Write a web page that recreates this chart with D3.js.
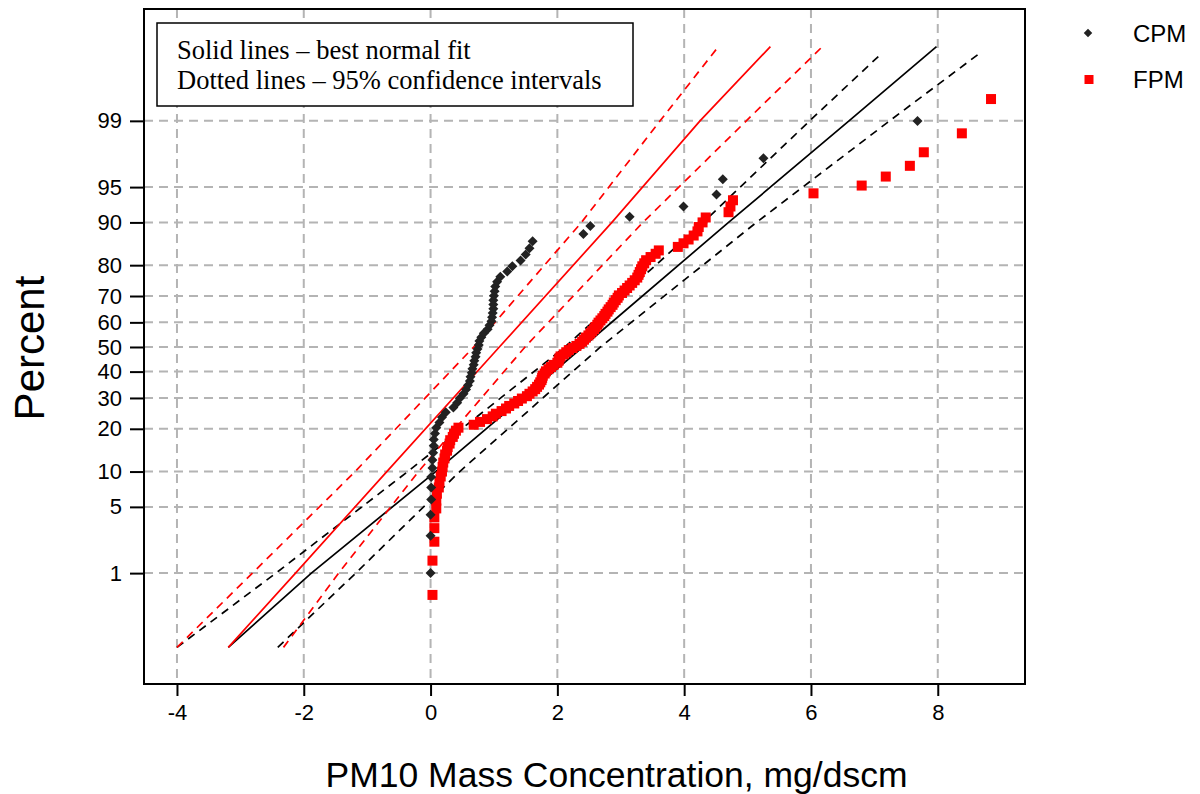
<!DOCTYPE html>
<html>
<head>
<meta charset="utf-8">
<script src="https://cdn.jsdelivr.net/npm/d3@7"></script>
<style>
  body { margin: 0; background: #fff; }
  text { font-family: "Liberation Sans", Arial, sans-serif; }
</style>
</head>
<body>
<svg id="chart" width="1200" height="794"></svg>
<script>
// Sorted sample values, mg/dscm
var cpmValues = [0.00, 0.00, 0.00, 0.01, 0.01, 0.01, 0.03, 0.03, 0.04, 0.05,
    0.05, 0.07, 0.09, 0.14, 0.18, 0.24, 0.36, 0.42, 0.46, 0.52,
    0.56, 0.59, 0.62, 0.63, 0.65, 0.66, 0.68, 0.69, 0.71, 0.72,
    0.74, 0.76, 0.77, 0.80, 0.84, 0.90, 0.93, 0.96, 0.97, 0.98,
    0.99, 0.99, 0.99, 1.00, 1.01, 1.02, 1.05, 1.10, 1.21, 1.29,
    1.42, 1.50, 1.56, 1.61, 2.41, 2.52, 3.14, 3.99, 4.51, 4.61,
    5.25, 7.68]

var fpmValues = [0.03, 0.03, 0.06, 0.06, 0.06, 0.09, 0.09, 0.10, 0.13, 0.14,
    0.16, 0.18, 0.19, 0.20, 0.22, 0.23, 0.26, 0.27, 0.30, 0.31,
    0.35, 0.37, 0.40, 0.44,
    0.68, 0.78, 0.89, 0.98, 1.03, 1.12, 1.19, 1.24, 1.32, 1.38,
    1.44, 1.52, 1.56, 1.61, 1.65, 1.68, 1.71, 1.73, 1.75, 1.76,
    1.77, 1.80, 1.82, 1.86, 1.90, 1.94, 2.00, 2.02, 2.03, 2.05,
    2.10, 2.14, 2.18, 2.24, 2.30, 2.35, 2.39, 2.42, 2.45, 2.49,
    2.52, 2.55, 2.58, 2.60, 2.63, 2.65, 2.68, 2.71, 2.74, 2.76,
    2.79, 2.81, 2.84, 2.87, 2.89, 2.92, 2.95, 2.97, 3.02, 3.06,
    3.10, 3.14, 3.18, 3.22, 3.26, 3.28, 3.30, 3.32, 3.34, 3.37,
    3.40, 3.47, 3.55, 3.60, 3.90, 3.99, 4.07, 4.15, 4.21, 4.23,
    4.29, 4.34, 4.70, 4.73, 4.77, 6.04, 6.80, 7.18, 7.56, 7.78,
    8.38, 8.84]

// Fit and confidence lines, values read at these percents
var linePercents = [0.1, 1, 10, 50, 90, 99, 99.9]
var cpmCiPercents = [0.1, 1, 10, 50, 90, 99, 99.87]
var cpmFit = [-3.19, -1.88, 0.08, 2.40, 4.70, 6.60, 7.98]
var cpmLower = [-4.00, -2.44, -0.36, 2.12, 4.30, 5.98, 7.10]
var cpmUpper = [-2.41, -1.18, 0.46, 2.68, 5.14, 7.24, 8.64]
var fpmFit = [-3.19, -2.13, -0.69, 1.085, 2.86, 4.25, 5.36]
var fpmLower = [-4.00, -2.81, -1.19, 0.68, 2.38, 3.62, 4.54]
var fpmUpper = [-2.32, -1.45, -0.19, 1.49, 3.35, 4.98, 6.18]

var xTicks = [-4, -2, 0, 2, 4, 6, 8]
var yTicks = [1, 5, 10, 20, 30, 40, 50, 60, 70, 80, 90, 95, 99]

var plotLeft = 144, plotRight = 1025, plotTop = 9, plotBottom = 684

// inverse of the standard normal CDF (Acklam)
function probit(p) {
    var a = [-39.6968302866538, 220.946098424521, -275.928510446969, 138.357751867269, -30.6647980661472, 2.50662827745924]
    var b = [-54.4760987982241, 161.585836858041, -155.698979859887, 66.8013118877197, -13.2806815528857]
    var c = [-0.00778489400243029, -0.322396458041136, -2.40075827716184, -2.54973253934373, 4.37466414146497, 2.93816398269878]
    var d = [0.00778469570904146, 0.32246712907004, 2.445134137143, 3.75440866190742]
    var q, r
    if (p < 0.02425) {
        q = Math.sqrt(-2 * Math.log(p))
        return (((((c[0] * q + c[1]) * q + c[2]) * q + c[3]) * q + c[4]) * q + c[5]) / ((((d[0] * q + d[1]) * q + d[2]) * q + d[3]) * q + 1)
    }
    if (p > 1 - 0.02425) {
        q = Math.sqrt(-2 * Math.log(1 - p))
        return -(((((c[0] * q + c[1]) * q + c[2]) * q + c[3]) * q + c[4]) * q + c[5]) / ((((d[0] * q + d[1]) * q + d[2]) * q + d[3]) * q + 1)
    }
    q = p - 0.5
    r = q * q
    return (((((a[0] * r + a[1]) * r + a[2]) * r + a[3]) * r + a[4]) * r + a[5]) * q / (((((b[0] * r + b[1]) * r + b[2]) * r + b[3]) * r + b[4]) * r + 1)
}

var x = d3.scaleLinear().domain([-4.52, 9.376]).range([plotLeft, plotRight])
// probability axis: linear in normal quantile
var yz = d3.scaleLinear().domain([-3.467, 3.477]).range([plotBottom, plotTop])
function y(pct) { return yz(probit(pct / 100)) }

// Blom plotting positions for the sorted samples
function ranked(values) {
    var n = values.length
    return values.map(function (v, i) { return [v, 100 * (i + 1 - 0.375) / (n + 0.25)] })
}

var svg = d3.select("#chart")

// Grid
var grid = svg.append("g")
grid.selectAll(".vgrid").data(xTicks).enter().append("line")
    .attr("x1", function (d) { return x(d) }).attr("x2", function (d) { return x(d) })
    .attr("y1", plotTop).attr("y2", plotBottom)
grid.selectAll(".hgrid").data(yTicks).enter().append("line")
    .attr("x1", plotLeft).attr("x2", plotRight)
    .attr("y1", function (d) { return y(d) }).attr("y2", function (d) { return y(d) })
grid.selectAll("line")
    .attr("stroke", "#b4b4b4").attr("stroke-width", 2).attr("stroke-dasharray", "9,6")

// Axes
var xAxis = d3.axisBottom(x).tickValues(xTicks).tickSize(12).tickPadding(8)
    .tickFormat(function (d) { return String(d) })
var yAxis = d3.axisLeft(yz).tickValues(yTicks.map(function (d) { return probit(d / 100) }))
    .tickFormat(function (d, i) { return yTicks[i] }).tickSize(14).tickPadding(8)

var gx = svg.append("g").attr("transform", "translate(0," + plotBottom + ")").call(xAxis)
var gy = svg.append("g").attr("transform", "translate(" + plotLeft + ",0)").call(yAxis)
;[gx, gy].forEach(function (g) {
    g.attr("font-size", null).attr("font-family", null)
    g.select(".domain").remove()
    g.selectAll(".tick line").attr("stroke", "#000").attr("stroke-width", 2)
    g.selectAll(".tick text").attr("fill", "#000").style("font-size", "22px")
})

// Lines
var line = d3.line()
    .x(function (d) { return x(d[0]) })
    .y(function (d) { return y(d[1]) })

function pairs(vals, pcts) { return vals.map(function (v, i) { return [v, pcts[i]] }) }

var lines = [
    { pts: pairs(cpmLower, cpmCiPercents), color: "#000", dash: "8,6" },
    { pts: pairs(cpmUpper, cpmCiPercents), color: "#000", dash: "8,6" },
    { pts: pairs(cpmFit, linePercents), color: "#000", dash: null },
    { pts: pairs(fpmLower, linePercents), color: "#ff0000", dash: "8,6" },
    { pts: pairs(fpmUpper, linePercents), color: "#ff0000", dash: "8,6" },
    { pts: pairs(fpmFit, linePercents), color: "#ff0000", dash: null }
]
svg.append("g").selectAll("path").data(lines).enter().append("path")
    .attr("d", function (d) { return line(d.pts) })
    .attr("fill", "none")
    .attr("stroke", function (d) { return d.color })
    .attr("stroke-width", 1.7)
    .attr("stroke-dasharray", function (d) { return d.dash })

// Points
var diamond = "M0,-5L5,0L0,5L-5,0Z"
svg.append("g").selectAll("rect").data(ranked(fpmValues)).enter().append("rect")
    .attr("x", function (d) { return x(d[0]) - 5 })
    .attr("y", function (d) { return y(d[1]) - 5 })
    .attr("width", 10).attr("height", 10)
    .attr("fill", "#ff0000")

svg.append("g").selectAll("path").data(ranked(cpmValues)).enter().append("path")
    .attr("d", diamond)
    .attr("transform", function (d) { return "translate(" + x(d[0]) + "," + y(d[1]) + ")" })
    .attr("fill", "#222")

// Frame
svg.append("rect")
    .attr("x", plotLeft).attr("y", plotTop)
    .attr("width", plotRight - plotLeft).attr("height", plotBottom - plotTop)
    .attr("fill", "none").attr("stroke", "#000").attr("stroke-width", 2)

// Note box
svg.append("rect")
    .attr("x", 157).attr("y", 23).attr("width", 476).attr("height", 83)
    .attr("fill", "#fff").attr("stroke", "#000").attr("stroke-width", 1.5)
var note = svg.append("text")
    .style("font-family", "Liberation Serif, Times New Roman, serif")
    .style("font-size", "26.5px")
note.append("tspan").attr("x", 177).attr("y", 59).text("Solid lines \u2013 best normal fit")
note.append("tspan").attr("x", 177).attr("y", 89).text("Dotted lines \u2013 95% confidence intervals")

// Legend
svg.append("path").attr("d", diamond).attr("fill", "#222")
    .attr("transform", "translate(1088,33) scale(0.85)")
svg.append("rect").attr("x", 1084.5).attr("y", 75).attr("width", 9).attr("height", 9).attr("fill", "#ff0000")
svg.append("text").attr("x", 1133).attr("y", 42).style("font-size", "24px").text("CPM")
svg.append("text").attr("x", 1133).attr("y", 88).style("font-size", "24px").text("FPM")

// Axis titles
svg.append("text")
    .attr("x", (plotLeft + plotRight) / 2 + 32).attr("y", 787)
    .attr("text-anchor", "middle").style("font-size", "35.5px")
    .text("PM10 Mass Concentration, mg/dscm")
svg.append("text")
    .attr("transform", "translate(44,348) rotate(-90)")
    .attr("text-anchor", "middle").style("font-size", "42px")
    .text("Percent")
</script>
</body>
</html>
